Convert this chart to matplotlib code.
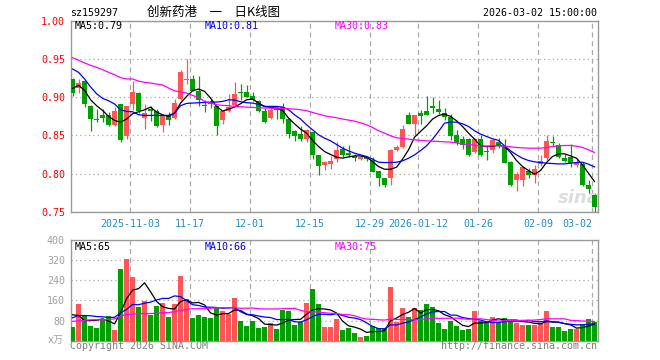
import numpy as np
import pandas as pd
import matplotlib
matplotlib.use('Agg')
from matplotlib import pyplot as plt

# trading days on the chart, 2025-10-20 .. 2026-03-02
holidays = ['2026-01-01', '2026-01-02', '2026-02-16', '2026-02-17', '2026-02-18',
            '2026-02-19', '2026-02-20', '2026-02-23']
dates = pd.bdate_range('2025-10-20', '2026-03-02', freq='C', holidays=holidays)

tick_dates = ['2025-11-03', '2025-11-17', '2025-12-01', '2025-12-15', '2025-12-29',
              '2026-01-12', '2026-01-26', '2026-02-09', '2026-03-02']
tick_labels = ['2025-11-03', '11-17', '12-01', '12-15', '12-29',
               '2026-01-12', '01-26', '02-09', '03-02']

opens = [0.924, 0.9115, 0.9216, 0.889, 0.8717, 0.876, 0.876, 0.864, 0.891, 0.849,
         0.8914, 0.906, 0.8726, 0.8844, 0.882, 0.864, 0.8756, 0.8726, 0.8975, 0.923,
         0.924, 0.9076, 0.890, 0.8936, 0.888, 0.8695, 0.8813, 0.890, 0.9067, 0.907,
         0.9014, 0.8953, 0.882, 0.8726, 0.8844, 0.887, 0.8713, 0.856, 0.852, 0.845,
         0.8546, 0.824, 0.8113, 0.8126, 0.8188, 0.8323, 0.827, 0.8231, 0.8196, 0.821,
         0.8179, 0.8035, 0.7947, 0.7947, 0.831, 0.8345, 0.876, 0.8651, 0.8791, 0.8813,
         0.8879, 0.8848, 0.8791, 0.8734, 0.8507, 0.845, 0.845, 0.8288, 0.845, 0.8297,
         0.831, 0.8407, 0.8345, 0.8157, 0.7916, 0.7916, 0.8035, 0.7982, 0.8126, 0.82,
         0.8415, 0.8376, 0.82, 0.8214, 0.8113, 0.8122, 0.7851, 0.772]
closes = [0.905, 0.918, 0.891, 0.871, 0.8704, 0.873, 0.864, 0.882, 0.844, 0.889,
          0.907, 0.882, 0.879, 0.882, 0.8625, 0.8765, 0.8695, 0.8927, 0.9334, 0.9238,
          0.9084, 0.8966, 0.888, 0.891, 0.8616, 0.8813, 0.8875, 0.9045, 0.9054, 0.9005,
          0.8966, 0.882, 0.868, 0.8835, 0.883, 0.8713, 0.852, 0.8494, 0.845, 0.8573,
          0.8244, 0.810, 0.8153, 0.8166, 0.831, 0.8244, 0.8244, 0.820, 0.821, 0.8192,
          0.8026, 0.7947, 0.7851, 0.831, 0.8345, 0.8586, 0.8651, 0.876, 0.8748, 0.8769,
          0.8853, 0.880, 0.8734, 0.8494, 0.8398, 0.838, 0.8244, 0.845, 0.8244, 0.8284,
          0.8433, 0.8354, 0.8144, 0.7851, 0.7991, 0.8091, 0.7982, 0.8057, 0.8166, 0.842,
          0.8398, 0.8214, 0.817, 0.8135, 0.8144, 0.7851, 0.7794, 0.7567]
highs = [0.925, 0.924, 0.923, 0.890, 0.885, 0.884, 0.880, 0.887, 0.891, 0.889,
         0.921, 0.907, 0.891, 0.888, 0.884, 0.8765, 0.880, 0.8975, 0.936, 0.950,
         0.9286, 0.928, 0.8966, 0.8975, 0.889, 0.882, 0.9045, 0.9197, 0.9175, 0.9163,
         0.9062, 0.8966, 0.8853, 0.8866, 0.888, 0.8923, 0.8726, 0.8573, 0.8616, 0.8585,
         0.855, 0.824, 0.8161, 0.8231, 0.8411, 0.8354, 0.8376, 0.8253, 0.8231, 0.8223,
         0.821, 0.8039, 0.7947, 0.8323, 0.8367, 0.863, 0.8805, 0.876, 0.8835, 0.9019,
         0.8997, 0.8966, 0.8857, 0.8783, 0.8573, 0.8494, 0.8463, 0.8463, 0.8507, 0.8376,
         0.845, 0.8463, 0.845, 0.8166, 0.8026, 0.810, 0.807, 0.8113, 0.8244, 0.8507,
         0.8494, 0.8398, 0.8258, 0.8385, 0.820, 0.8157, 0.7916, 0.7733]
lows = [0.901, 0.905, 0.887, 0.856, 0.868, 0.868, 0.862, 0.8625, 0.8415, 0.845,
        0.8835, 0.879, 0.8585, 0.869, 0.861, 0.854, 0.8635, 0.8717, 0.8966, 0.9167,
        0.9076, 0.888, 0.880, 0.886, 0.8507, 0.865, 0.880, 0.889, 0.8966, 0.8997,
        0.8944, 0.880, 0.866, 0.8713, 0.8713, 0.866, 0.8463, 0.842, 0.842, 0.8407,
        0.8192, 0.7982, 0.8048, 0.8057, 0.8157, 0.8214, 0.8214, 0.817, 0.818, 0.8166,
        0.8017, 0.7842, 0.7829, 0.7851, 0.830, 0.8332, 0.8647, 0.8507, 0.8651, 0.8765,
        0.8791, 0.8783, 0.8695, 0.8441, 0.8376, 0.8319, 0.8231, 0.8275, 0.8231, 0.8179,
        0.8266, 0.8332, 0.8135, 0.7838, 0.7777, 0.7838, 0.7938, 0.7881, 0.810, 0.8179,
        0.8354, 0.82, 0.8157, 0.8083, 0.8083, 0.7838, 0.775, 0.75]

ma5 = [0.9115, 0.9154, 0.9089, 0.8966, 0.8888, 0.8826, 0.8748, 0.8695, 0.8673, 0.8713,
       0.8783, 0.8809, 0.8835, 0.887, 0.8805, 0.8769, 0.8748, 0.8791, 0.8923, 0.901,
       0.9084, 0.9106, 0.9076, 0.8988, 0.8879, 0.8818, 0.8844, 0.887, 0.8914, 0.8966,
       0.8975, 0.8923, 0.8879, 0.8866, 0.8857, 0.8826, 0.8726, 0.8651, 0.8581, 0.8529,
       0.8433, 0.8354, 0.8288, 0.8249, 0.8214, 0.8201, 0.8218, 0.8231, 0.8231, 0.8214,
       0.8157, 0.8091, 0.8056, 0.8056, 0.8083, 0.8188, 0.831, 0.8476, 0.8551, 0.8625,
       0.8713, 0.876, 0.8778, 0.8748, 0.8691, 0.8616, 0.8529, 0.845, 0.8363, 0.8354,
       0.8354, 0.8371, 0.8354, 0.8275, 0.817, 0.8091, 0.8039, 0.7991, 0.8039, 0.8144,
       0.8223, 0.8258, 0.8258, 0.8231, 0.82, 0.8113, 0.8004, 0.7895]
ma10 = [0.9369, 0.9325, 0.9238, 0.9133, 0.9045, 0.8984, 0.8953, 0.891, 0.8835, 0.8813,
        0.8809, 0.877, 0.8761, 0.8761, 0.8761, 0.8761, 0.8761, 0.8791, 0.8888, 0.8918,
        0.8923, 0.8927, 0.8931, 0.8936, 0.8936, 0.8944, 0.8966, 0.8962, 0.894, 0.8927,
        0.8923, 0.8905, 0.8879, 0.8879, 0.8879, 0.887, 0.8835, 0.8769, 0.8713, 0.8638,
        0.8573, 0.8507, 0.8463, 0.8428, 0.838, 0.8332, 0.8297, 0.8266, 0.8244, 0.8223,
        0.8188, 0.8148, 0.8144, 0.8144, 0.8148, 0.8166, 0.820, 0.8244, 0.8301, 0.8363,
        0.845, 0.8551, 0.866, 0.8673, 0.8673, 0.8651, 0.8616, 0.856, 0.8516, 0.8485,
        0.8455, 0.8433, 0.8363, 0.8297, 0.8244, 0.820, 0.817, 0.8153, 0.8144, 0.8135,
        0.8131, 0.8126, 0.8126, 0.8135, 0.8144, 0.8148, 0.8122, 0.8087]
ma30 = [0.9517, 0.9483, 0.9448, 0.9417, 0.939, 0.936, 0.9325, 0.9294, 0.9255, 0.9238,
        0.9238, 0.921, 0.9194, 0.9185, 0.9172, 0.9159, 0.912, 0.9084, 0.9067, 0.9054,
        0.9023, 0.8997, 0.8944, 0.8923, 0.890, 0.8892, 0.8888, 0.8879, 0.8875, 0.887,
        0.8866, 0.8861, 0.8857, 0.8857, 0.8853, 0.8853, 0.8848, 0.8844, 0.8835, 0.8822,
        0.880, 0.8778, 0.8756, 0.8743, 0.873, 0.8713, 0.870, 0.8686, 0.8665, 0.8638,
        0.8603, 0.856, 0.8529, 0.8494, 0.8468, 0.8459, 0.845, 0.8441, 0.8433, 0.8428,
        0.8424, 0.842, 0.8415, 0.8411, 0.8402, 0.8385, 0.838, 0.8371, 0.8363, 0.8358,
        0.8363, 0.8363, 0.8358, 0.835, 0.8341, 0.8336, 0.8332, 0.8332, 0.8332, 0.8341,
        0.8354, 0.8363, 0.8367, 0.8367, 0.8358, 0.8341, 0.831, 0.8275]

# volume, in 10k
vol = [53, 144, 97, 60, 49, 83, 100, 44, 284, 325,
       252, 132, 156, 104, 136, 148, 96, 144, 256, 164,
       92, 104, 96, 92, 128, 116, 108, 168, 80, 60,
       80, 52, 56, 72, 48, 120, 116, 64, 76, 148,
       204, 144, 56, 56, 88, 44, 52, 32, 16, 20,
       60, 52, 52, 212, 76, 128, 96, 128, 120, 144,
       132, 72, 48, 80, 60, 44, 48, 116, 80, 72,
       96, 72, 92, 80, 72, 64, 64, 64, 72, 116,
       56, 56, 40, 48, 48, 68, 88, 76]
vol_ma5 = [103, 100, 80, 80, 81, 87, 78, 67, 112, 167,
           201, 207, 230, 194, 156, 135, 128, 126, 156, 162,
           150, 152, 142, 110, 102, 107, 108, 122, 120, 106,
           99, 88, 66, 64, 62, 70, 82, 84, 85, 105,
           122, 127, 126, 122, 110, 78, 59, 54, 46, 33,
           36, 36, 40, 79, 90, 104, 113, 128, 110, 123,
           124, 119, 103, 95, 78, 61, 56, 70, 70, 72,
           82, 87, 82, 82, 82, 76, 74, 69, 67, 76,
           74, 73, 68, 63, 50, 52, 58, 66]
vol_ma10 = [91, 100, 100, 99, 96, 95, 92, 93, 111, 124,
            144, 143, 149, 153, 162, 168, 168, 178, 175, 159,
            143, 140, 134, 133, 132, 129, 130, 132, 115, 104,
            103, 98, 94, 92, 84, 84, 85, 75, 74, 83,
            96, 105, 105, 103, 107, 100, 93, 90, 84, 71,
            57, 48, 47, 63, 62, 70, 74, 84, 94, 107,
            114, 116, 116, 102, 101, 92, 88, 86, 82, 75,
            72, 72, 76, 76, 77, 79, 81, 76, 75, 79,
            75, 74, 68, 65, 63, 63, 66, 67]
vol_ma30 = [77, 79, 81, 83, 83, 83, 84, 87, 97, 104,
            105, 107, 107, 108, 109, 111, 112, 115, 120, 125,
            127, 127, 127, 129, 131, 131, 131, 131, 129, 129,
            130, 127, 126, 126, 126, 127, 128, 128, 121, 115,
            114, 114, 111, 109, 108, 104, 103, 99, 91, 86,
            85, 83, 82, 86, 84, 85, 84, 83, 84, 87,
            89, 89, 89, 89, 90, 87, 85, 87, 87, 84,
            81, 78, 80, 80, 80, 81, 81, 82, 84, 87,
            87, 87, 87, 81, 80, 78, 78, 76]

W, H = 660, 360
RED = '#ff5555'
GREEN = '#00a000'
GRID = '#aaaaaa'
FRAME = '#999999'
XLAB = '#1f8dd6'
MONO = 'DejaVu Sans Mono'
CJK = ['Noto Sans CJK SC', 'DejaVu Sans']


def box(x0, y0, x1, y1):
    return [x0 / W, 1 - y1 / H, (x1 - x0) / W, (y1 - y0) / H]


def ftext(x, y, s, **kw):
    fig.text(x / W, 1 - y / H, s, va='center', **kw)


fig = plt.figure(figsize=(W / 100, H / 100), dpi=100)
ax = fig.add_axes(box(70.5, 20.8, 597.7, 211.7))
axv = fig.add_axes(box(70.5, 240, 597.7, 340.7))

x = np.arange(len(dates))
o = np.array(opens)
c = np.array(closes)
colors = np.where(c >= o, RED, GREEN)
xlim = (-0.35, len(dates) - 0.47)
tick_pos = [dates.get_loc(pd.Timestamp(d)) - 0.42 for d in tick_dates]

# candles
ax.vlines(x, lows, highs, colors=colors, lw=0.9, zorder=3)
ax.bar(x, np.maximum(np.abs(c - o), 0.0012), bottom=np.minimum(o, c), width=0.8,
       color=colors, lw=0, zorder=4)
ax.plot(x, ma5, color='black', lw=0.9, zorder=5)
ax.plot(x, ma10, color='#0000ff', lw=0.9, zorder=5)
ax.plot(x, ma30, color='#ff00ff', lw=0.9, zorder=5)

# volume
axv.bar(x, vol, width=0.82, color=colors, lw=0, zorder=3)
axv.plot(x, vol_ma5, color='black', lw=0.9, zorder=5)
axv.plot(x, vol_ma10, color='#0000ff', lw=0.9, zorder=5)
axv.plot(x, vol_ma30, color='#ff00ff', lw=0.9, zorder=5)

for a in (ax, axv):
    a.set_xlim(*xlim)
    for t in tick_pos:
        a.axvline(t, color=GRID, ls=(0, (4, 3)), lw=0.9, zorder=1)
    a.yaxis.grid(True, color=GRID, ls=(0, (1, 2.5)), lw=0.9)
    a.set_axisbelow(True)
    for s in a.spines.values():
        s.set_color(FRAME)
        s.set_linewidth(1.0)
    a.tick_params(length=0)

ax.set_ylim(0.75, 1.0)
yt = np.arange(0.75, 1.001, 0.05)
ax.set_yticks(yt)
ax.set_yticklabels(['%.2f' % v for v in yt], color='red', fontfamily=MONO, fontsize=7.2)
ax.tick_params(axis='y', pad=4)
ax.set_xticks(tick_pos)
labs = ax.set_xticklabels(tick_labels, color=XLAB, fontfamily=MONO, fontsize=7.2)
labs[-1].set_horizontalalignment('right')
ax.tick_params(axis='x', pad=5)

axv.set_ylim(0, 400)
vt = [80, 160, 240, 320, 400]
axv.set_yticks(vt)
axv.set_yticklabels([str(v) for v in vt], color='#a0a0a0', fontfamily=MONO, fontsize=7.2)
axv.tick_params(axis='y', pad=4)
axv.set_xticks(tick_pos)
axv.tick_params(axis='x', labelbottom=False)

ax.text(0.965, 0.07, 'sina', transform=ax.transAxes, fontsize=13, fontstyle='italic',
        fontweight='bold', color='#dcdcdc', ha='center', va='center', zorder=2)

# header and legends
ftext(70, 12.5, 'sz159297', fontfamily=MONO, fontsize=7.2, color='black')
ftext(214, 12.5, '创新药港\u3000一\u3000日K线图', family=CJK, fontsize=9, color='black',
      ha='center')
ftext(597, 12.5, '2026-03-02 15:00:00', fontfamily=MONO, fontsize=7.2, color='black', ha='right')

ftext(75, 26, 'MA5:%.2f' % ma5[-1], fontfamily=MONO, fontsize=7.2, color='black')
ftext(205, 26, 'MA10:%.2f' % ma10[-1], fontfamily=MONO, fontsize=7.2, color='#0000ff')
ftext(335, 26, 'MA30:%.2f' % ma30[-1], fontfamily=MONO, fontsize=7.2, color='#ff00ff')

ftext(75, 247, 'MA5:65', fontfamily=MONO, fontsize=7.2, color='black')
ftext(205, 247, 'MA10:66', fontfamily=MONO, fontsize=7.2, color='#0000ff')
ftext(335, 247, 'MA30:75', fontfamily=MONO, fontsize=7.2, color='#ff00ff')

ftext(64, 340, 'x万', family=['DejaVu Sans Mono', 'Noto Sans CJK SC'], fontsize=7.2,
      color='#a0a0a0', ha='right')
ftext(70, 346, 'Copyright 2026 SINA.COM', fontfamily=MONO, fontsize=7.2, color='#808080')
ftext(597, 346, 'http://finance.sina.com.cn', fontfamily=MONO, fontsize=7.2,
      color='#808080', ha='right')

fig.savefig('out.png', dpi=100)
